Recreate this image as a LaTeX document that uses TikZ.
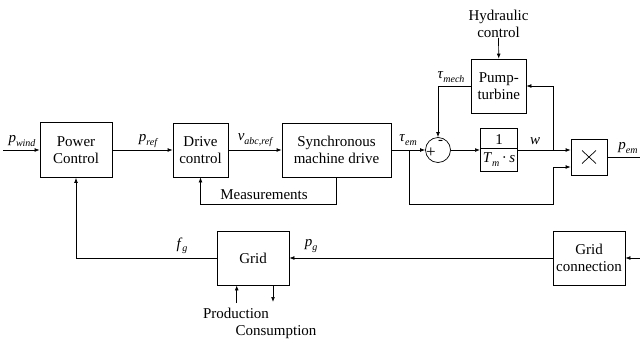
\documentclass[tikz,border=0pt]{standalone}
\usepackage{fontspec}
\setmainfont{Liberation Serif}
\usetikzlibrary{arrows.meta,calc}
\newcommand\mysub[1]{\raisebox{-0.5ex}{\fontsize{10}{10}\selectfont\itshape #1}}
\newcommand\myvar[2]{\textit{#1}\mysub{#2}}
\begin{document}
\begin{tikzpicture}[x=1pt,y=-1pt,
  every node/.style={font=\fontsize{15}{17}\selectfont},
  blk/.style={draw,line width=0.7pt,inner sep=0pt,align=center},
  conn/.style={line width=0.7pt,-{Latex[length=5pt,width=3.8pt]}},
  wire/.style={line width=0.7pt},
  lab/.style={inner sep=0pt,align=center}]
\useasboundingbox (0,0) rectangle (640,338);

% blocks
\node[blk,minimum width=72pt,minimum height=55pt] (pc) at (76,150) {Power\\Control};
\node[blk,minimum width=55pt,minimum height=54pt] (dc) at (200.5,150) {Drive\\control};
\node[blk,minimum width=109pt,minimum height=54pt] (smd) at (336.5,150) {Synchronous\\machine drive};
\node[blk,circle,minimum size=25pt] (sum) at (438,150) {};
\node[blk,minimum width=36pt,minimum height=43pt] (tf) at (499,150)
  {\begin{tabular}{@{\,}c@{\,}}1\\[-1pt]\hline\rule{0pt}{14pt}\textit{T}\mysub{m}\,·\,\textit{s}\end{tabular}};
\node[blk,minimum width=54.5pt,minimum height=54pt] (pt) at (498.75,86) {Pump-\\turbine};
\node[blk,minimum width=36pt,minimum height=36pt] (mul) at (589,157) {};
\node[blk,minimum width=72pt,minimum height=54pt] (grid) at (253,258) {Grid};
\node[blk,minimum width=72pt,minimum height=54pt] (gc) at (589,258) {Grid\\connection};
\node[lab] (hc) at (498.5,24) {Hydraulic\\control};

% multiply sign
\draw[wire] ($(mul.center)+(-7,-6.5)$) -- ($(mul.center)+(7,6.5)$);
\draw[wire] ($(mul.center)+(-7,6.5)$) -- ($(mul.center)+(7,-6.5)$);

% sum signs
\node[lab,font=\fontsize{17}{17}\selectfont] (plus) at (431,153) {+};
\node[lab,font=\fontsize{15}{15}\selectfont] (minus) at (440.5,142) {-};

% coordinates
\coordinate (in) at (3,150);
\coordinate (br) at (409,150);
\coordinate (wj) at (553,150);
\coordinate (mb) at (0,204);
\coordinate (out) at (640,157);
\coordinate (gin) at (640,258);
\coordinate (prod) at (236.7,303);
\coordinate (cons) at (273,302);

% connectors
\draw[conn] (in) -- (pc.west);
\draw[conn] (pc.east) -- (dc.west);
\draw[conn] (dc.east) -- (smd.west);
\draw[conn] (smd.south) |- (mb -| dc.south) -- (dc.south);
\draw[conn] (smd.east) -- (sum.west);
\draw[conn] (pt.west) -| (sum.north);
\draw[conn] (sum.east) -- (tf.west);
\draw[conn] (tf.east) -- (tf.east -| mul.west);
\draw[conn] (wj) |- (pt.east);
\draw[conn] (hc.south) -- (pt.north);
\draw[conn] (br) -- (br |- mb) -- (wj |- mb) -- ([yshift=-10pt]mul.west -| wj) -- ([yshift=-10pt]mul.west);
\draw[wire] (mul.east) -- (out);
\draw[conn] (gin) -- (gc.east);
\draw[conn] (gc.west) -- (grid.east);
\draw[conn] (grid.west) -| (pc.south);
\draw[conn] (prod) -- (prod |- grid.south);
\draw[conn] (cons |- grid.south) -- (cons);

% labels
\node[lab] (lpw) at (22,141) {\myvar{p}{wind}};
\node[lab] (lpr) at (148,141) {\myvar{p}{ref}};
\node[lab] (lv) at (255,140) {\myvar{v}{abc,ref}};
\node[lab] (lte) at (408,140) {\myvar{τ}{em}};
\node[lab] (ltm) at (451,77) {\myvar{τ}{mech}};
\node[lab] (lw) at (535,141) {\textit{w}};
\node[lab] (lpe) at (628,148) {\myvar{p}{em}};
\node[lab] (lfg) at (182,246) {\myvar{f}{g}};
\node[lab] (lpg) at (311,246) {\myvar{p}{g}};
\node[lab] (lm) at (264,195) {Measurements};
\node[lab] (lprod) at (236,313) {Production};
\node[lab] (lcons) at (276,332) {Consumption};
\end{tikzpicture}
\end{document}
